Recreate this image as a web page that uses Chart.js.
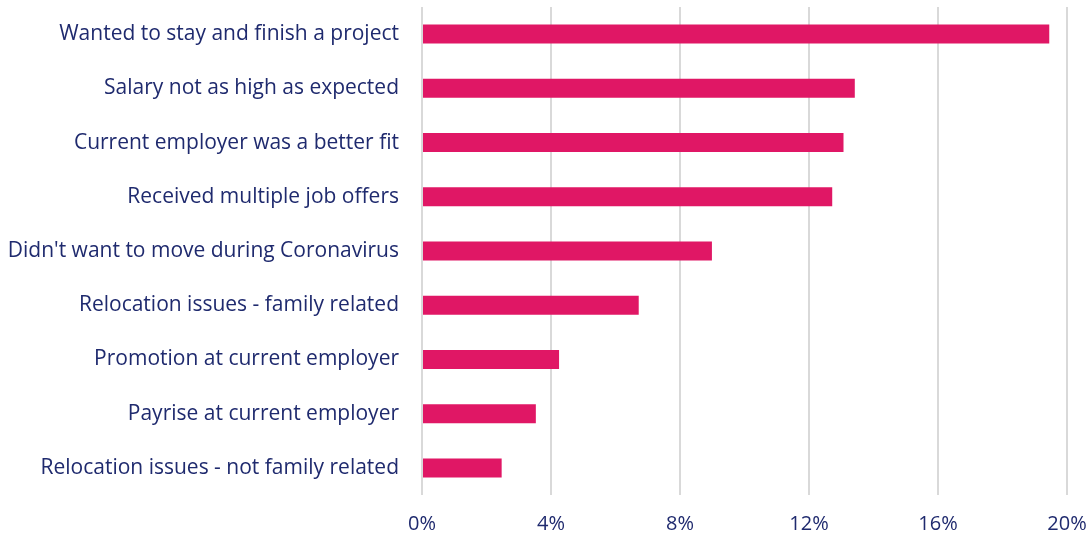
<!DOCTYPE html>
<html>
<head>
<meta charset="utf-8">
<script src="https://cdn.jsdelivr.net/npm/chart.js@4"></script>
<style>
  html, body { margin: 0; padding: 0; background: #ffffff; }
  #wrap { width: 1087px; height: 536px; }
</style>
</head>
<body>
<div id="wrap"><canvas id="myChart" width="1087" height="536"></canvas></div>
<script>
// reasons for turning down an offer (share of respondents, %)
const categories = [
    "Wanted to stay and finish a project",
    "Salary not as high as expected",
    "Current employer was a better fit",
    "Received multiple job offers",
    "Didn't want to move during Coronavirus",
    "Relocation issues - family related",
    "Promotion at current employer",
    "Payrise at current employer",
    "Relocation issues - not family related"
];
const percentages = [19.45, 13.42, 13.07, 12.72, 8.99, 6.72, 4.25, 3.53, 2.47];
const xTicks = [0, 4, 8, 12, 16, 20];

const textColor = '#1f2a6e';
const labelFont = { family: 'Open Sans', size: 21 };

var ctx = document.getElementById('myChart').getContext('2d');

var myBarChart = new Chart(ctx, {
    type: 'bar',
    data: {
        labels: categories,
        datasets: [{
            data: percentages,
            backgroundColor: '#e01765',
            borderWidth: 0,
            categoryPercentage: 1,
            barPercentage: 0.35
        }]
    },
    options: {
        indexAxis: 'y',
        responsive: false,
        animation: false,
        layout: { padding: { top: 7, right: 0, left: 0, bottom: 0 } },
        plugins: {
            legend: { display: false },
            tooltip: { enabled: false }
        },
        scales: {
            x: {
                min: 0,
                max: 20,
                afterBuildTicks: function (scale) {
                    scale.ticks = xTicks.map(v => ({ value: v }));
                },
                afterFit: function (scale) {
                    scale.height = 41;
                    scale.paddingLeft = 0;
                    scale.paddingRight = 20;
                },
                ticks: {
                    color: textColor,
                    font: { family: 'Open Sans', size: 20 },
                    padding: 17,
                    maxRotation: 0,
                    callback: function (v) { return v + '%'; }
                },
                grid: { color: '#d9d9d9', lineWidth: 2, drawTicks: false },
                border: { display: false }
            },
            y: {
                afterFit: function (scale) {
                    scale.width = 422;
                    scale.paddingTop = 0;
                    scale.paddingBottom = 0;
                },
                ticks: {
                    color: textColor,
                    font: labelFont,
                    padding: 23
                },
                grid: { display: false, drawTicks: false },
                border: { display: false }
            }
        }
    }
});
</script>
</body>
</html>
